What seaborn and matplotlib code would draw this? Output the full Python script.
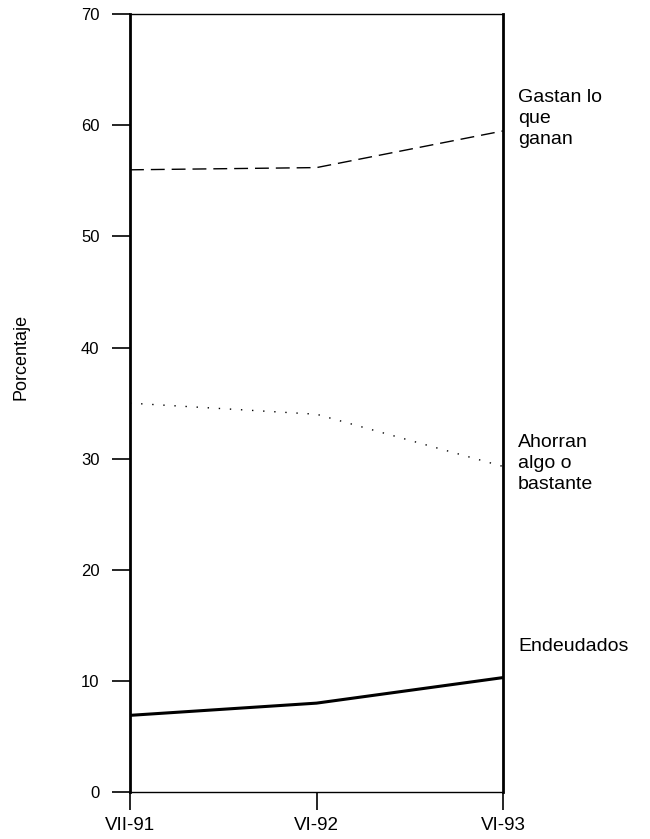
import pandas as pd
import matplotlib
matplotlib.use("Agg")
import matplotlib.pyplot as plt
import seaborn as sns

# values
periods = ["VII-91", "VI-92", "VI-93"]
gastan = [56.0, 56.2, 59.5]
ahorran = [35.0, 34.0, 29.3]
endeudados = [6.9, 8.0, 10.3]
series_names = ["Gastan lo\nque\nganan", "Ahorran\nalgo o\nbastante", "Endeudados"]
label_y = [60.6, 29.6, 13.1]
yticks = [0, 10, 20, 30, 40, 50, 60, 70]

data = pd.DataFrame({
    "periodo": list(range(len(periods))) * 3,
    "pct": gastan + ahorran + endeudados,
    "serie": [series_names[0]] * 3 + [series_names[1]] * 3 + [series_names[2]] * 3,
})

sns.set_style("ticks")
plt.rcParams["font.family"] = ["Liberation Sans", "DejaVu Sans"]

fig = plt.figure(figsize=(6.5, 8.39), dpi=100)
ax = fig.add_axes([0.2, 0.056, 0.574, 0.927])

styles = [(0, (10, 5)), (0, (1, 7)), "-"]
widths = [1.0, 1.0, 2.2]
for name, ls, lw in zip(series_names, styles, widths):
    sns.lineplot(data=data[data["serie"] == name], x="periodo", y="pct",
                 color="black", linestyle=ls, linewidth=lw, ax=ax)

for name, yv in zip(series_names, label_y):
    ax.text(2.08, yv, name, fontsize=14, va="center", ha="left",
            linespacing=1.3, clip_on=False, color="black")

ax.set_xlim(0, 2)
ax.set_ylim(0, 70)
ax.set_xticks([0, 1, 2])
ax.set_xticklabels(periods, fontsize=13.5, color="black")
ax.set_yticks(yticks)
ax.set_yticklabels([str(t) for t in yticks], fontsize=12, color="black")
ax.set_xlabel("")
ax.set_ylabel("Porcentaje", fontsize=13, color="black")
ax.yaxis.set_label_coords(-0.27, 0.56)
ax.tick_params(axis="both", direction="out", length=13, width=1.2, color="black")
ax.tick_params(axis="y", pad=9)
ax.tick_params(axis="x", pad=5)

for side in ["left", "right"]:
    ax.spines[side].set_linewidth(2.0)
for side in ["top", "bottom"]:
    ax.spines[side].set_linewidth(1.0)
for sp in ax.spines.values():
    sp.set_color("black")

fig.savefig("out.png", dpi=100)
